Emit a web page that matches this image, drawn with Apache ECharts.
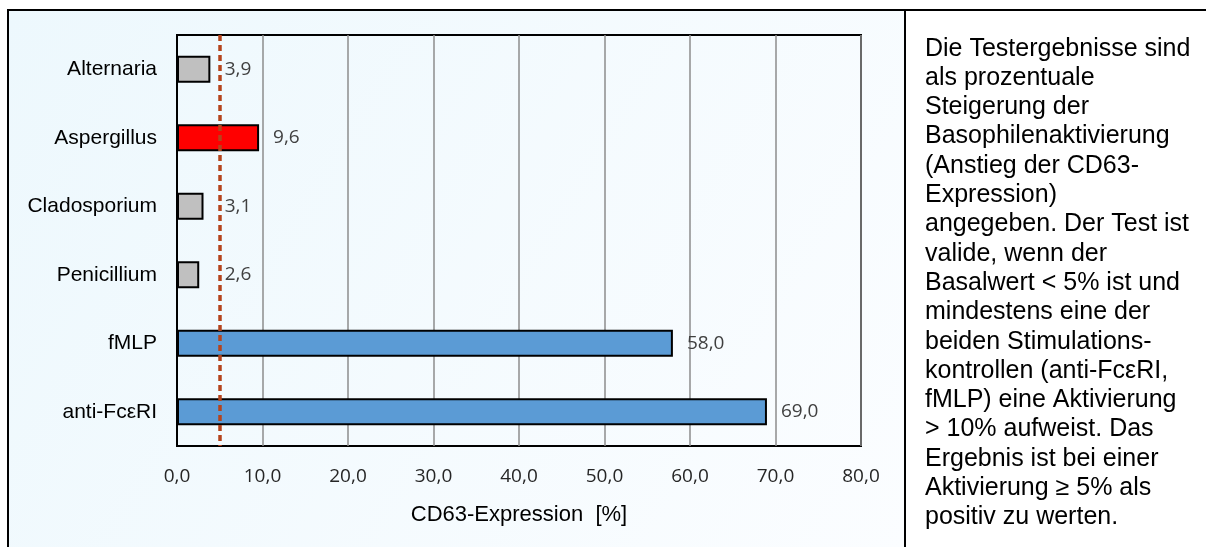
<!DOCTYPE html>
<html>
<head>
<meta charset="utf-8">
<style>
  html, body { margin: 0; padding: 0; background: #ffffff; }
  #chart { width: 1206px; height: 547px; }
</style>
<script src="https://cdn.jsdelivr.net/npm/echarts@6/dist/echarts.min.js"></script>
</head>
<body>
<div id="chart"></div>
<script>
// Allergen and control categories, top to bottom
const categories = ['Alternaria', 'Aspergillus', 'Cladosporium', 'Penicillium', 'fMLP', 'anti-Fc\u03B5RI'];
// CD63 expression increase in percent
const values = [3.9, 9.6, 3.1, 2.6, 58.0, 69.0];
// Positivity threshold in percent
const threshold = 5;
// Bar fill per category
const barColors = ['#c0c0c0', '#ff0000', '#c0c0c0', '#c0c0c0', '#5b9bd5', '#5b9bd5'];
// Value axis range and step
const axisMin = 0, axisMax = 80, axisStep = 10;

const noteLines = [
  'Die Testergebnisse sind',
  'als prozentuale',
  'Steigerung der',
  'Basophilenaktivierung',
  '(Anstieg der CD63-',
  'Expression)',
  'angegeben. Der Test ist',
  'valide, wenn der',
  'Basalwert < 5% ist und',
  'mindestens eine der',
  'beiden Stimulations-',
  'kontrollen (anti-Fc\u03B5RI,',
  'fMLP) eine Aktivierung',
  '> 10% aufweist. Das',
  'Ergebnis ist bei einer',
  'Aktivierung \u2265 5% als',
  'positiv zu werten.'
];

const fmt = v => Number(v).toFixed(1).replace('.', ',');

const LABEL_GAP = 14;

const chart = echarts.init(document.getElementById('chart'), null, { renderer: 'canvas' });

function barData(distances) {
  return values.map((v, i) => ({
    value: v,
    itemStyle: { color: barColors[i] },
    label: { distance: distances ? distances[i] : LABEL_GAP }
  }));
}

const option = {
  animation: false,
  backgroundColor: '#ffffff',
  graphic: [
    {
      type: 'rect', z: -10, silent: true,
      shape: { x: 9, y: 11, width: 895, height: 540 },
      style: {
        fill: new echarts.graphic.LinearGradient(0, 0, 1, 1, [
          { offset: 0, color: '#edf8fd' },
          { offset: 1, color: '#fbfdff' }
        ])
      }
    },
    { type: 'line', z: 10, silent: true, shape: { x1: 7, y1: 10, x2: 1206, y2: 10 }, style: { stroke: '#000', lineWidth: 2 } },
    { type: 'line', z: 10, silent: true, shape: { x1: 8, y1: 9, x2: 8, y2: 547 }, style: { stroke: '#000', lineWidth: 2 } },
    { type: 'line', z: 10, silent: true, shape: { x1: 905, y1: 9, x2: 905, y2: 547 }, style: { stroke: '#000', lineWidth: 2 } },
    {
      type: 'text', z: 10, silent: true, left: 925, top: 34,
      style: {
        text: noteLines.join('\n'),
        font: '25px "Liberation Sans", Arial, sans-serif',
        lineHeight: 29.3,
        fill: '#000000'
      }
    }
  ],
  grid: {
    left: 177, right: 345, top: 35, bottom: 101,
    show: true, borderColor: '#000000', borderWidth: 2, backgroundColor: 'transparent',
    containLabel: false
  },
  xAxis: {
    type: 'value', min: axisMin, max: axisMax, interval: axisStep,
    name: 'CD63-Expression  [%]', nameLocation: 'middle', nameGap: 58,
    nameTextStyle: { fontFamily: '"Liberation Sans", Arial, sans-serif', fontSize: 22, color: '#000000' },
    axisLine: { show: false },
    axisTick: { show: false },
    axisLabel: {
      formatter: fmt, margin: 21,
      fontFamily: '"Open Sans", sans-serif', fontSize: 19, color: '#262626'
    },
    splitLine: { show: true, lineStyle: { color: '#8c8c8c', width: 1.5 } }
  },
  yAxis: {
    type: 'category', data: categories, inverse: true,
    axisLine: { show: true, lineStyle: { color: '#000000', width: 2 } },
    axisTick: { show: false },
    axisLabel: {
      margin: 20,
      fontFamily: '"Liberation Sans", Arial, sans-serif', fontSize: 21, color: '#000000'
    },
    splitLine: { show: false }
  },
  series: [{
    type: 'bar',
    data: barData(null),
    barWidth: 27,
    itemStyle: { borderColor: '#000000', borderWidth: 2 },
    label: {
      show: true, position: 'right',
      formatter: p => fmt(p.value),
      fontFamily: '"Open Sans", sans-serif', fontSize: 19, color: '#404040'
    },
    markLine: {
      silent: true, symbol: 'none', label: { show: false },
      lineStyle: { color: '#b5441c', width: 3.5, type: [6, 4], opacity: 1 },
      emphasis: { disabled: true },
      data: [{ xAxis: threshold }]
    }
  }]
};

chart.setOption(option);

// Keep value labels of short bars clear of the threshold line
const thrPx = chart.convertToPixel({ xAxisIndex: 0 }, threshold);
const distances = values.map(v => {
  const endPx = chart.convertToPixel({ xAxisIndex: 0 }, v);
  return (endPx < thrPx) ? Math.max(LABEL_GAP, thrPx + 5 - endPx) : LABEL_GAP;
});
chart.setOption({ series: [{ data: barData(distances) }] });
</script>
</body>
</html>
